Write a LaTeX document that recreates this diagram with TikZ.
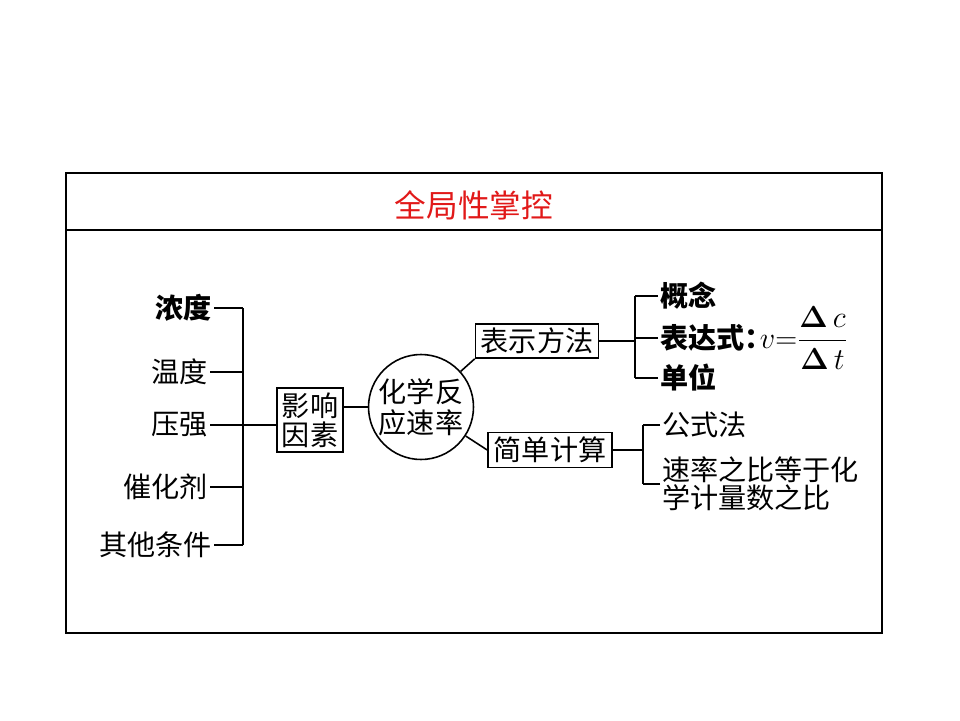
\documentclass[tikz,border=0pt]{standalone}
\usepackage{amsmath}
\usepackage[no-math]{fontspec}
\newfontfamily\cjk{Noto Sans CJK SC}
\definecolor{titlered}{RGB}{225,25,25}

\begin{document}
\begin{tikzpicture}[x=0.02cm, y=-0.02cm,
  txt/.style={font=\cjk\fontsize{16}{17}\selectfont, inner sep=1pt},
  bld/.style={font=\cjk\bfseries\fontsize{16}{17}\selectfont, inner sep=1pt},
  box/.style={draw, line width=0.9pt, align=center, inner sep=1pt},
  ln/.style={line width=0.9pt}]
\useasboundingbox (0,0) rectangle (960,720);
% frame and title
\draw[ln] (66,173) rectangle (882,633);
\draw[ln] (66,230) -- (882,230);
\node[font=\cjk\fontsize{18}{20}\selectfont, text=titlered] (title) at (474,205) {全局性掌控};

% factors
\node[bld, anchor=east] (nongdu) at (214,308) {浓度};
\node[txt, anchor=east] (wendu) at (210,372) {温度};
\node[txt, anchor=east] (yaqiang) at (210,425) {压强};
\node[txt, anchor=east] (cuihua) at (210,487) {催化剂};
\node[txt, anchor=east] (qita) at (214,545) {其他条件};
\coordinate (lspine) at (243,425);
\foreach \n in {nongdu, wendu, yaqiang, cuihua, qita}
  \draw[ln] (\n.east) -- (\n.east -| lspine);
\draw[ln] (nongdu.east -| lspine) -- (qita.east -| lspine);

% centre
\node[box, txt, font=\cjk\fontsize{16}{16.5}\selectfont, minimum width=1.32cm, minimum height=1.28cm] (yingxiang) at (310,420) {影响\\因素};
\node[draw, circle, ln, txt, align=center, font=\cjk\fontsize{16}{17.5}\selectfont, minimum size=2.1cm, inner sep=0pt] (sulv) at (421,407) {化学反\\应速率};
\draw[ln] (lspine) -- (lspine -| yingxiang.west);
\draw[ln] (yingxiang.east |- sulv) -- (sulv.west);

\node[box, txt, minimum width=2.46cm, minimum height=0.68cm] (biaoshi) at (537,341) {表示方法};
\node[box, txt, minimum width=2.48cm, minimum height=0.7cm] (jisuan) at (550,450) {简单计算};
\draw[ln] (sulv) -- (biaoshi.south west);
\draw[ln] (sulv) -- (jisuan.west);

% expression
\node[bld, anchor=west] (gainian) at (658,296) {概念};
\node[bld, anchor=west] (biaodashi) at (658,338) {表达式：\hspace{-0.45em}$v{=}\dfrac{\mathbf{\Delta}\,c}{\mathbf{\Delta}\,t}$};
\node[bld, anchor=west] (danwei) at (658,378) {单位};
\coordinate (rspineA) at (635,341);
\draw[ln] (biaoshi) -- (rspineA);
\foreach \n in {gainian, biaodashi, danwei}
  \draw[ln] (\n.west) -- (\n.west -| rspineA);
\draw[ln] (gainian.west -| rspineA) -- (danwei.west -| rspineA);

% calculation
\node[txt, anchor=west] (gongshi) at (660,425) {公式法};
\node[txt, anchor=west, align=left, font=\cjk\fontsize{16}{16}\selectfont] (bili) at (660,484) {速率之比等于化\\学计量数之比};
\coordinate (rspineB) at (643,450);
\draw[ln] (jisuan) -- (rspineB);
\foreach \n in {gongshi, bili}
  \draw[ln] (\n.west) -- (\n.west -| rspineB);
\draw[ln] (gongshi.west -| rspineB) -- (bili.west -| rspineB);
\end{tikzpicture}
\end{document}
